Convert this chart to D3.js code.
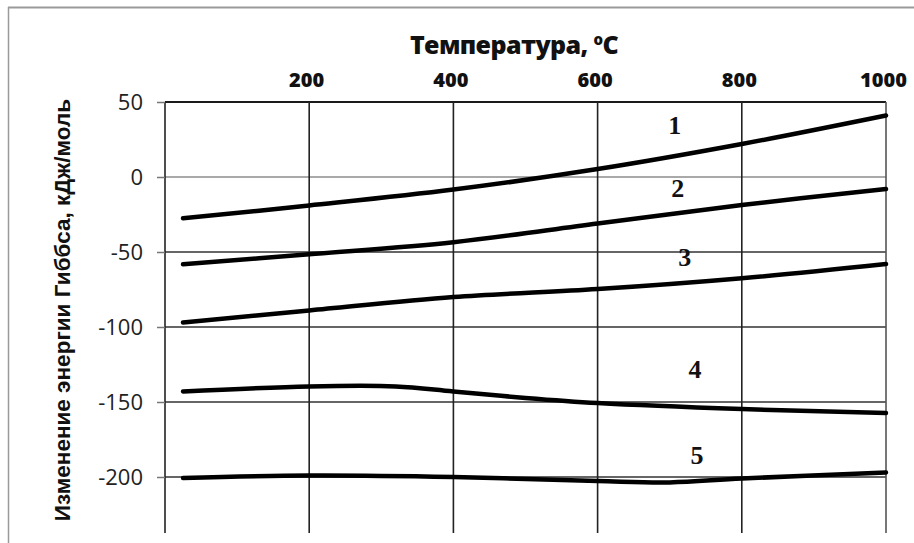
<!DOCTYPE html>
<html>
<head>
<meta charset="utf-8">
<script src="https://cdn.jsdelivr.net/npm/d3@7"></script>
<style>
  html, body { margin: 0; padding: 0; background: #fff; }
  svg { display: block; }
</style>
</head>
<body>
<svg id="chart" width="914" height="543"></svg>
<script>
// ---- data ----
const xTicks = [200, 400, 600, 800, 1000];
const yTicks = [50, 0, -50, -100, -150, -200];
const temps1 = [25, 200, 400, 600, 800, 1000];
const curve1 = [-27.5, -19, -8.4, 5.3, 22, 41];
const temps2 = [25, 200, 400, 600, 800, 1000];
const curve2 = [-58.2, -51.5, -43.5, -31, -18.7, -8];
const temps3 = [25, 200, 400, 600, 800, 1000];
const curve3 = [-97, -89, -80, -74.7, -67.5, -58];
const temps4 = [25, 200, 320, 400, 500, 600, 800, 1000];
const curve4 = [-143, -139.6, -139.6, -143, -147.3, -150.7, -154.7, -157.3];
const temps5 = [25, 200, 400, 600, 700, 800, 1000];
const curve5 = [-200.7, -199, -200, -202.7, -203.6, -201, -197];
const curveNames = ["1", "2", "3", "4", "5"];
const labelPos = [[707, 29], [711, -13], [721, -59], [735, -134], [738, -191]]; // [temperature, value] anchor of number labels
const xTitle = "Температура, ";
const yTitle = "Изменение энергии Гиббса, кДж/моль";

const series = [
  temps1.map((t, i) => [t, curve1[i]]),
  temps2.map((t, i) => [t, curve2[i]]),
  temps3.map((t, i) => [t, curve3[i]]),
  temps4.map((t, i) => [t, curve4[i]]),
  temps5.map((t, i) => [t, curve5[i]])
];

// ---- layout ----
const svg = d3.select("#chart");
const x = d3.scaleLinear().domain([0, 1000]).range([165, 886]);
const y = d3.scaleLinear().domain([-240, 50]).range([537, 102]);
const yBottom = 533;

// outer frame (top and left)
svg.append("line").attr("x1", 8).attr("x2", 914).attr("y1", 7.5).attr("y2", 7.5)
  .attr("stroke", "#9a9a9a").attr("stroke-width", 2);
svg.append("line").attr("x1", 8.5).attr("x2", 8.5).attr("y1", 7).attr("y2", 543)
  .attr("stroke", "#9a9a9a").attr("stroke-width", 1.5);

// horizontal gridlines
svg.append("g").selectAll("line").data(yTicks).join("line")
  .attr("x1", x(0)).attr("x2", x(1000))
  .attr("y1", d => y(d)).attr("y2", d => y(d))
  .attr("stroke", d => d === 0 ? "#8c8c8c" : (d === 50 ? "#1a1a1a" : "#333"))
  .attr("stroke-width", d => d === 50 ? 2 : 1.6);

// vertical gridlines
svg.append("g").selectAll("line").data(xTicks).join("line")
  .attr("x1", d => x(d)).attr("x2", d => x(d))
  .attr("y1", y(50)).attr("y2", yBottom)
  .attr("stroke", d => d === 1000 ? "#555" : "#222")
  .attr("stroke-width", 1.6);

// y axis (left)
const yAxis = svg.append("g").attr("transform", `translate(${x(0)},0)`)
  .call(d3.axisLeft(y).tickValues(yTicks).tickSize(8).tickPadding(14).tickFormat(d3.format("d")));
yAxis.select(".domain").attr("d", `M0,${y(50)}V${yBottom}`).attr("stroke", "#222").attr("stroke-width", 1.6);
yAxis.selectAll(".tick line").attr("stroke", "#777").attr("stroke-width", 1.5);
yAxis.selectAll(".tick text")
  .attr("font-family", "'Open Sans', 'Liberation Sans', sans-serif")
  .attr("font-size", 22).attr("fill", "#222").attr("dy", "0.34em")
  .text(d => d < 0 ? "-" + Math.abs(d) : d);

// x axis (top)
const xAxis = svg.append("g").attr("transform", `translate(0,${y(50)})`)
  .call(d3.axisTop(x).tickValues(xTicks).tickSize(0).tickPadding(15).tickFormat(d3.format("d")));
xAxis.select(".domain").remove();
xAxis.selectAll(".tick text")
  .attr("font-family", "'Open Sans', 'Liberation Sans', sans-serif")
  .attr("font-weight", 800).attr("font-size", 20).attr("fill", "#111")
  .attr("dx", -3);

// curves
const line = d3.line().x(d => x(d[0])).y(d => y(d[1])).curve(d3.curveCatmullRom.alpha(0.5));
svg.append("g").selectAll("path").data(series).join("path")
  .attr("d", line).attr("fill", "none").attr("stroke", "#000")
  .attr("stroke-width", 4.5).attr("stroke-linecap", "round");

// curve number labels
svg.append("g").selectAll("text").data(curveNames).join("text")
  .attr("x", (d, i) => x(labelPos[i][0]))
  .attr("y", (d, i) => y(labelPos[i][1]))
  .attr("text-anchor", "middle")
  .attr("font-family", "'Liberation Serif', 'DejaVu Serif', serif")
  .attr("font-weight", "bold").attr("font-size", 26).attr("fill", "#111")
  .text(d => d);

// x title
const xt = svg.append("text").attr("x", 514).attr("y", 54)
  .attr("text-anchor", "middle")
  .attr("font-family", "'Open Sans', 'Liberation Sans', sans-serif")
  .attr("font-weight", 800).attr("font-size", 25).attr("fill", "#111")
  .attr("letter-spacing", -0.6);
xt.append("tspan").text(xTitle);
xt.append("tspan").attr("font-size", 15).attr("dy", -9).text("o");
xt.append("tspan").attr("dy", 9).text("C");

// y title
svg.append("text")
  .attr("transform", `translate(70,${310}) rotate(-90)`)
  .attr("text-anchor", "middle")
  .attr("font-family", "'Liberation Sans', Arial, sans-serif")
  .attr("font-weight", "bold").attr("font-size", 22.5).attr("fill", "#111")
  .text(yTitle);
</script>
</body>
</html>
